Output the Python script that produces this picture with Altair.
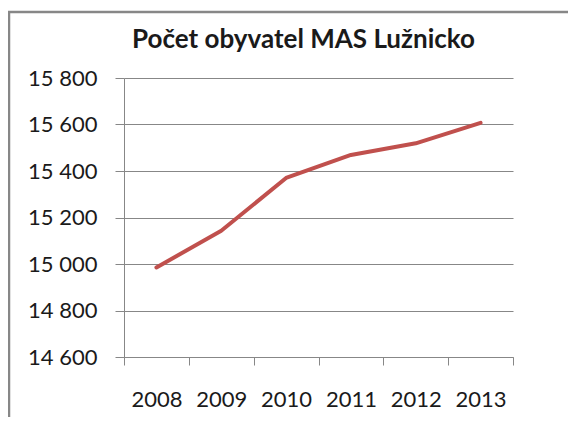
import altair as alt
import pandas as pd

years = ["2008", "2009", "2010", "2011", "2012", "2013"]
population = [14985, 15143, 15370, 15469, 15519, 15607]
y_ticks = [14600, 14800, 15000, 15200, 15400, 15600, 15800]
title_text = "Počet obyvatel MAS Lužnicko"

df = pd.DataFrame({"rok": years, "obyvatel": population})

W, H = 389, 279
FONT = "Lato"
GRAY = "#878787"

line = alt.Chart(df).mark_line(
    color="#C0504D", strokeWidth=4, strokeCap="round", strokeJoin="round"
).encode(
    x=alt.X("rok:N", sort=years,
            scale=alt.Scale(paddingInner=0, paddingOuter=0),
            axis=alt.Axis(title=None, labelAngle=0, tickBand="extent",
                          labelFont=FONT, labelFontSize=22, labelColor="#1a1a1a",
                          labelPadding=24, tickSize=8, tickColor=GRAY,
                          domainColor=GRAY, grid=False)),
    y=alt.Y("obyvatel:Q",
            scale=alt.Scale(domain=[14600, 15800], nice=False, zero=False),
            axis=alt.Axis(title=None, values=y_ticks,
                          labelExpr="replace(format(datum.value, ',d'), ',', ' ')",
                          labelFont=FONT, labelFontSize=22, labelColor="#1a1a1a",
                          labelPadding=18, tickSize=9, tickColor=GRAY,
                          domainColor=GRAY, gridColor=GRAY, grid=True)),
)

one = pd.DataFrame({"a": [0]})
frame_top = alt.Chart(one).mark_rule(color=GRAY, strokeWidth=2.5).encode(
    x=alt.value(-116), x2=alt.value(W + 200), y=alt.value(-66),
)
frame_left = alt.Chart(one).mark_rule(color=GRAY, strokeWidth=2.5).encode(
    x=alt.value(-115), y=alt.value(-67), y2=alt.value(H + 200),
)

title = alt.Chart(pd.DataFrame({"t": [title_text]})).mark_text(
    font=FONT, fontSize=26, fontWeight="bold", color="#1a1a1a",
    align="center", baseline="middle"
).encode(
    text="t:N", x=alt.value(W / 2 - 15), y=alt.value(-38),
)

chart = alt.layer(frame_top, frame_left, line, title).properties(
    width=W, height=H,
    autosize=alt.AutoSizeParams(type="none"),
    padding={"left": 116, "top": 70, "right": 55, "bottom": 60},
).configure_view(stroke=None)

chart.save("out.html", embed_options={"renderer": "svg", "actions": False})
